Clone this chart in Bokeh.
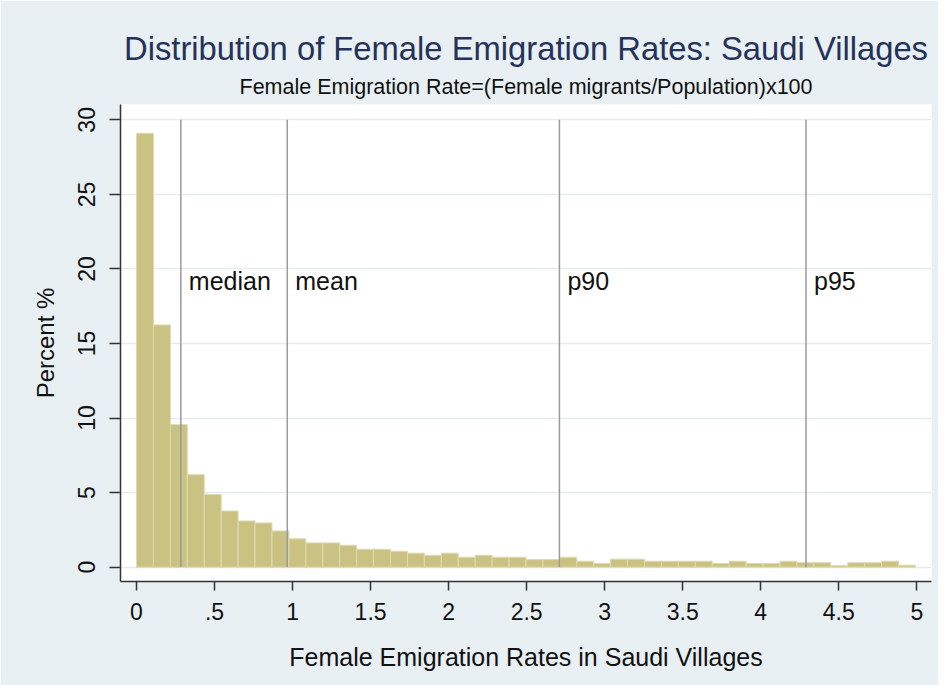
from bokeh.plotting import figure
from bokeh.models import Title, FixedTicker, Range1d
from bokeh.core.properties import value
from bokeh.embed import file_html
from bokeh.resources import INLINE

# ---- data ----
bin_width = 0.1085
percent = [29.1, 16.25, 9.56, 6.2, 4.87, 3.77, 3.1, 2.97, 2.43, 1.9,
           1.63, 1.63, 1.47, 1.2, 1.2, 1.07, 0.94, 0.8, 0.94, 0.67,
           0.8, 0.67, 0.67, 0.51, 0.51, 0.67, 0.4, 0.25, 0.54, 0.54,
           0.4, 0.4, 0.4, 0.4, 0.25, 0.4, 0.25, 0.25, 0.4, 0.3,
           0.3, 0.1, 0.3, 0.3, 0.4, 0.13]
stat_names = ["median", "mean", "p90", "p95"]
stat_values = [0.284, 0.966, 2.71, 4.29]
stat_label_y = 19.2
x_ticks = [0, 0.5, 1, 1.5, 2, 2.5, 3, 3.5, 4, 4.5, 5]
x_tick_labels = ["0", ".5", "1", "1.5", "2", "2.5", "3", "3.5", "4", "4.5", "5"]
y_ticks = [0, 5, 10, 15, 20, 25, 30]

left_edges = [i * bin_width for i in range(len(percent))]
right_edges = [(i + 1) * bin_width for i in range(len(percent))]

FONT = "Liberation Sans"
BG = "#E9F0F3"

p = figure(width=938, height=685, output_backend="svg", toolbar_location=None,
           x_range=Range1d(-0.1026, 5.094), y_range=Range1d(-0.96, 31.03),
           min_border_left=120, min_border_right=7, min_border_top=104,
           min_border_bottom=104)
p.background_fill_color = "white"
p.border_fill_color = BG
p.outline_line_color = None
p.title.text = ""

sub = Title(text="Female Emigration Rate=(Female migrants/Population)x100",
            align="center", text_font=FONT, text_font_size="21.5px",
            text_font_style="normal", text_color="#111111", standoff=12)
p.add_layout(sub, "above")
main = Title(text="Distribution of Female Emigration Rates: Saudi Villages",
             align="center", text_font=FONT, text_font_size="32.75px",
             text_font_style="normal", text_color="#25325A", standoff=0)
p.add_layout(main, "above")

p.quad(left=left_edges, right=right_edges, bottom=0, top=percent,
       fill_color="#CAC283", line_color="#DFDAB0", line_width=1)

p.segment(x0=stat_values, y0=0, x1=stat_values, y1=30,
          line_color="#9A9A9A", line_width=1.5)
p.text(x=stat_values, y=[stat_label_y] * len(stat_values), text=stat_names,
       x_offset=8, text_baseline="middle", text_align="left",
       text_font=value(FONT), text_font_size="25px", text_color="#111111")

# axes
p.xaxis.ticker = FixedTicker(ticks=x_ticks)
p.xaxis.major_label_overrides = {t: l for t, l in zip(x_ticks, x_tick_labels)}
p.yaxis.ticker = FixedTicker(ticks=y_ticks)
p.yaxis.major_label_orientation = "vertical"

for ax in (p.xaxis[0], p.yaxis[0]):
    ax.axis_line_color = "#333333"
    ax.axis_line_width = 1.5
    ax.major_tick_line_color = "#333333"
    ax.major_tick_line_width = 1.5
    ax.minor_tick_line_color = None
    ax.major_tick_in = 0
    ax.major_label_text_font = FONT
    ax.major_label_text_font_size = "23px"
    ax.major_label_text_color = "#111111"
    ax.axis_label_text_font = FONT
    ax.axis_label_text_font_size = "25px"
    ax.axis_label_text_font_style = "normal"
    ax.axis_label_text_color = "#111111"

p.xaxis.major_tick_out = 9
p.xaxis.major_label_standoff = 12
p.xaxis.axis_label = "Female Emigration Rates in Saudi Villages"
p.xaxis.axis_label_standoff = 20
p.yaxis.major_tick_out = 11
p.yaxis.major_label_standoff = 14
p.yaxis.axis_label = "Percent %"
p.yaxis.axis_label_standoff = 17
p.yaxis.axis_label_text_font_size = "24px"

p.xgrid.grid_line_color = None
p.ygrid.grid_line_color = "#E4ECEF"
p.ygrid.grid_line_width = 1.5

open("out.html", "w").write(file_html(p, INLINE))
